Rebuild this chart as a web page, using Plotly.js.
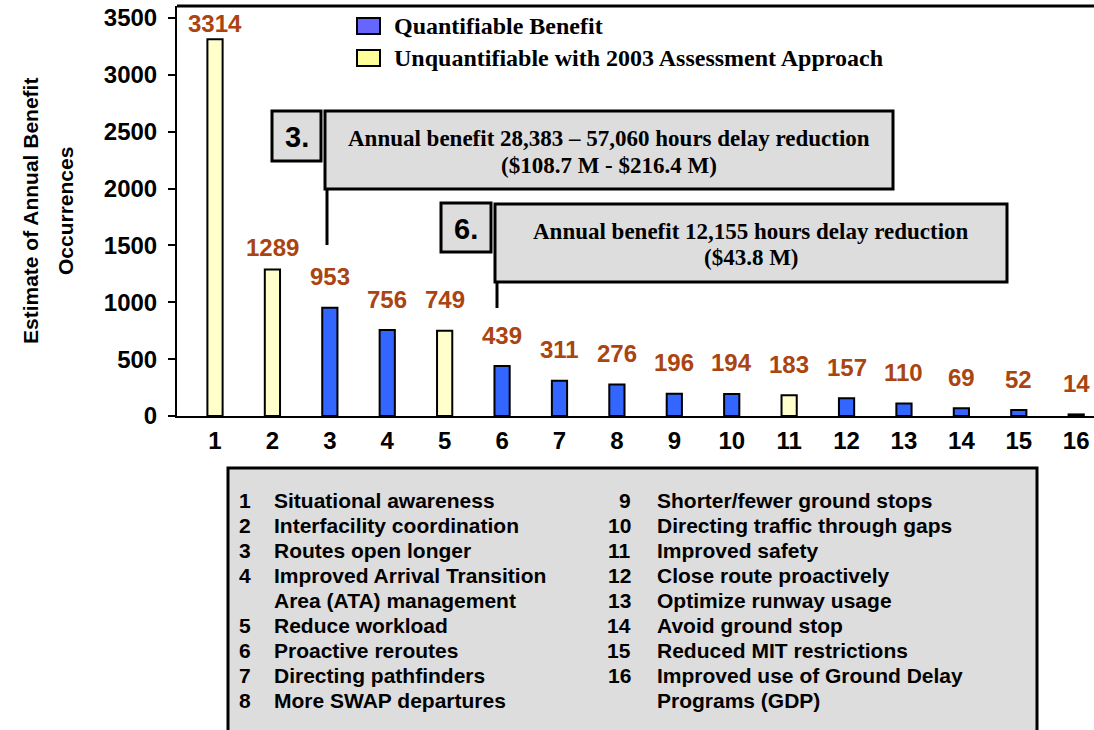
<!DOCTYPE html>
<html>
<head>
<meta charset="utf-8">
<script src="https://cdn.plot.ly/plotly-3.0.1.min.js"></script>
<style>html,body{margin:0;padding:0;background:#fff;}#chart{width:1094px;height:730px;}</style>
</head>
<body>
<div id="chart"></div>
<script>
// ---------- data ----------
const categories = [1,2,3,4,5,6,7,8,9,10,11,12,13,14,15,16];
const occurrences = [3314,1289,953,756,749,439,311,276,196,194,183,157,110,69,52,14];
const quantifiable = [false,false,true,true,false,true,true,true,true,true,false,true,true,true,true,true];
const itemNames = [
  "Situational awareness",
  "Interfacility coordination",
  "Routes open longer",
  "Improved Arrival Transition<br>Area (ATA) management",
  "Reduce workload",
  "Proactive reroutes",
  "Directing pathfinders",
  "More SWAP departures",
  "Shorter/fewer ground stops",
  "Directing traffic through gaps",
  "Improved safety",
  "Close route proactively",
  "Optimize runway usage",
  "Avoid ground stop",
  "Reduced MIT restrictions",
  "Improved use of Ground Delay<br>Programs (GDP)"
];
const legendNames = ["Quantifiable Benefit", "Unquantifiable with 2003 Assessment Approach"];
const callouts = [
  {item: 3, text: "Annual benefit 28,383 \u2013 57,060 hours delay reduction<br>($108.7 M - $216.4 M)"},
  {item: 6, text: "Annual benefit 12,155 hours delay reduction<br>($43.8 M)"}
];
const yTickVals = [0,500,1000,1500,2000,2500,3000,3500];

// ---------- styling / geometry ----------
const W = 1094, H = 730;
const M = {l:177, r:0, t:6, b:314};
const PW = W - M.l - M.r, PH = H - M.t - M.b;
const px = x => (x - M.l) / PW;          // pixel -> paper x
const py = y => (H - M.b - y) / PH;      // pixel -> paper y
const BLUE = "#3366FF", YELLOW = "#FFFFCC";
const LABEL_COLOR = "#AA4411";
const SANS = "Liberation Sans, Arial, sans-serif";
const SERIF = "Liberation Serif, Times New Roman, serif";
const labelShift = [16,22,31,31,31,31,31,31,31,31,31,31,31,31,31,31];

const traces = [{
  type: "bar",
  x: categories,
  y: occurrences,
  width: 0.265,
  marker: {
    color: quantifiable.map(q => q ? BLUE : YELLOW),
    line: {color: "#000", width: 2}
  },
  showlegend: false,
  hoverinfo: "x+y"
}];

const annotations = [];
function note(x, y, text, font, xanchor, extra) {
  annotations.push(Object.assign({
    x: px(x), y: py(y), xref: "paper", yref: "paper", showarrow: false,
    xanchor: xanchor || "center", yanchor: "middle", text: text, font: font
  }, extra || {}));
}
// value labels
categories.forEach((c, i) => {
  annotations.push({
    x: c, y: occurrences[i], xref: "x", yref: "y",
    text: "<b>" + occurrences[i] + "</b>",
    showarrow: false, yshift: labelShift[i], xanchor: "center", yanchor: "middle",
    font: {family: SANS, size: 24, color: LABEL_COLOR}
  });
});
// y-axis title (two lines)
note(30, 211, "<b>Estimate of Annual Benefit</b>", {family: SANS, size: 21, color: "#000"}, "center", {textangle: -90});
note(65, 211, "<b>Occurrences</b>", {family: SANS, size: 21, color: "#000"}, "center", {textangle: -90});

const shapes = [];
// top frame line
shapes.push({type: "line", xref: "paper", yref: "paper", x0: 0, x1: 1, y0: 1, y1: 1,
  line: {color: "#000", width: 3}});
// legend swatches + text
const legendColors = ["#6666FF", "#FFFF99"];
const legendRowsY = [26, 58];
legendNames.forEach((n, i) => {
  shapes.push({type: "rect", xref: "paper", yref: "paper",
    x0: px(357), x1: px(380), y0: py(legendRowsY[i] + 8), y1: py(legendRowsY[i] - 8),
    fillcolor: legendColors[i], line: {color: "#000", width: 2}});
  note(392, legendRowsY[i], "<b>" + n + "</b>", {family: SERIF, size: 24, color: "#000"}, "left");
});

// callout boxes
const calloutGeom = [
  {num: [272,321,111,161], box: [325,893,111,189], line: [327,189,245], tx: 609, ty: [139,165]},
  {num: [441,491,203,252], box: [495,1007,204,282], line: [497,282,308], tx: 751, ty: [231,257]}
];
callouts.forEach((c, i) => {
  const g = calloutGeom[i];
  shapes.push({type: "rect", xref: "paper", yref: "paper",
    x0: px(g.num[0]), x1: px(g.num[1]), y0: py(g.num[3]), y1: py(g.num[2]),
    fillcolor: "#DDDDDD", line: {color: "#000", width: 3}});
  shapes.push({type: "rect", xref: "paper", yref: "paper",
    x0: px(g.box[0]), x1: px(g.box[1]), y0: py(g.box[3]), y1: py(g.box[2]),
    fillcolor: "#DDDDDD", line: {color: "#000", width: 3}});
  shapes.push({type: "line", xref: "paper", yref: "paper",
    x0: px(g.line[0]), x1: px(g.line[0]), y0: py(g.line[1]), y1: py(g.line[2]),
    line: {color: "#000", width: 3}});
  note((g.num[0] + g.num[1]) / 2, (g.num[2] + g.num[3]) / 2 + 1, "<b>" + c.item + ".</b>",
    {family: SANS, size: 29, color: "#000"}, "center");
  c.text.split("<br>").forEach((t, k) => {
    note(g.tx, g.ty[k], "<b>" + t + "</b>", {family: SERIF, size: 23, color: "#000"}, "center");
  });
});

// key box at the bottom
shapes.push({type: "rect", xref: "paper", yref: "paper",
  x0: px(228), x1: px(1037), y0: py(740), y1: py(468),
  fillcolor: "#DDDDDD", line: {color: "#000", width: 3}});
const rowY0 = 500, rowStep = 25;
const keyFont = {family: SANS, size: 21, color: "#000"};
let row = 0;
for (let i = 0; i < 8; i++) {
  note(237, rowY0 + row * rowStep, "<b>" + categories[i] + "</b>", keyFont, "left");
  itemNames[i].split("<br>").forEach(p => {
    note(272, rowY0 + row * rowStep, "<b>" + p + "</b>", keyFont, "left");
    row++;
  });
}
row = 0;
for (let i = 8; i < 16; i++) {
  note(633, rowY0 + row * rowStep, "<b>" + categories[i] + "</b>", keyFont, "right");
  itemNames[i].split("<br>").forEach(p => {
    note(655, rowY0 + row * rowStep, "<b>" + p + "</b>", keyFont, "left");
    row++;
  });
}

const layout = {
  width: W, height: H,
  margin: M,
  paper_bgcolor: "#fff", plot_bgcolor: "#fff",
  showlegend: false,
  bargap: 0,
  xaxis: {
    range: [0.338, 16.31], tickmode: "array", tickvals: categories, ticktext: categories.map(String),
    showgrid: false, zeroline: false, showline: true, linecolor: "#000", linewidth: 2,
    ticks: "", ticklabelstandoff: 2,
    tickfont: {family: SANS, size: 24, color: "#000", weight: "bold"}
  },
  yaxis: {
    range: [0, 3605.5], tickmode: "array", tickvals: yTickVals,
    showgrid: false, zeroline: false, showline: true, linecolor: "#000", linewidth: 2,
    ticks: "outside", ticklen: 7, tickwidth: 2, tickcolor: "#000", ticklabelstandoff: 6,
    tickfont: {family: SANS, size: 24, color: "#000", weight: "bold"}
  },
  shapes: shapes,
  annotations: annotations
};

Plotly.newPlot("chart", traces, layout, {displayModeBar: false, staticPlot: true});
</script>
</body>
</html>
